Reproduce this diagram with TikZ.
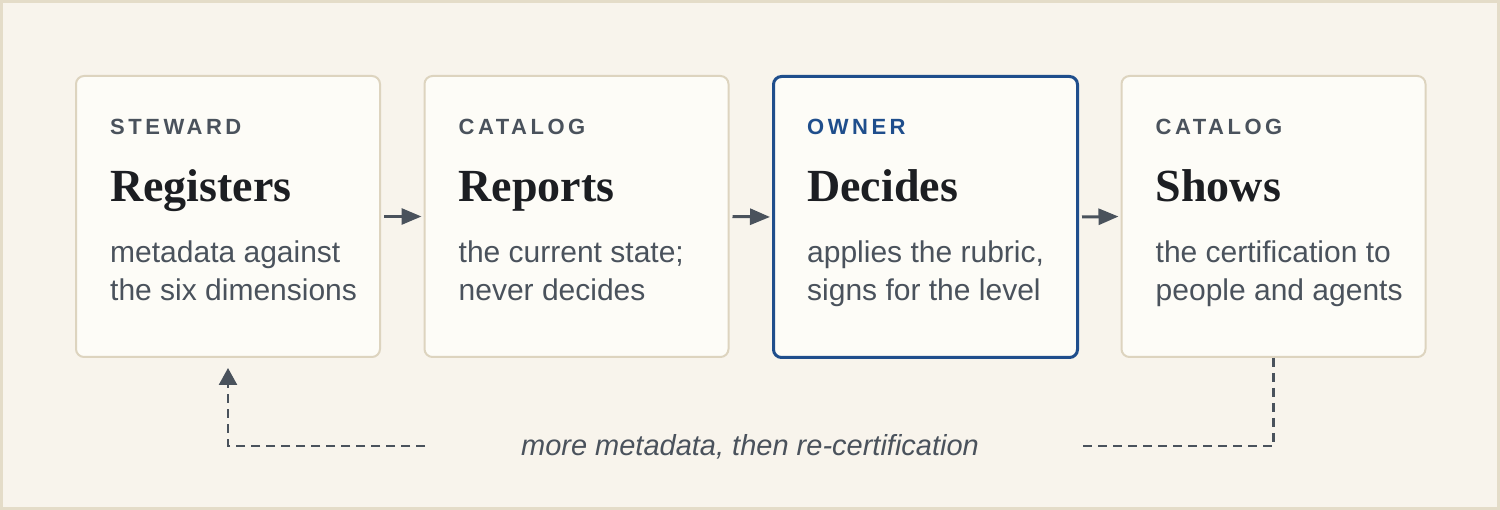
\documentclass[tikz,border=0pt]{standalone}
\usepackage{fontspec}
\usetikzlibrary{arrows.meta,calc}
\setmainfont{Liberation Serif}
\newfontfamily\labfont[LetterSpace=16]{Liberation Sans}
\newfontfamily\bodyfont{Liberation Sans}
\definecolor{bg}{HTML}{F8F4EC}
\definecolor{frame}{HTML}{E4DCC8}
\definecolor{boxfill}{HTML}{FDFCF7}
\definecolor{boxline}{HTML}{DDD4BF}
\definecolor{ownblue}{HTML}{1F4E8C}
\definecolor{darktext}{HTML}{1C1E22}
\definecolor{graytext}{HTML}{4A525C}
\begin{document}
\begin{tikzpicture}[x=1pt,y=-1pt,
  stagebox/.style={draw=boxline, line width=2pt, fill=boxfill, rounded corners=8pt,
    minimum width=304pt, minimum height=281pt, anchor=north west, inner sep=0pt},
  ownerbox/.style={stagebox, draw=ownblue, line width=3pt},
  roletext/.style={anchor=base west, inner sep=0pt, text=graytext, font=\labfont\bfseries\fontsize{22}{26}\selectfont},
  titletext/.style={anchor=base west, inner sep=0pt, text=darktext, font=\bfseries\fontsize{46}{52}\selectfont},
  bodytext/.style={anchor=base west, inner sep=0pt, text=graytext, font=\bodyfont\fontsize{30}{36}\selectfont},
  flow/.style={draw=graytext, line width=3pt, -{Triangle[length=20pt,width=16pt]}, shorten <=3pt, shorten >=2pt},
  loopline/.style={draw=graytext, line width=2.5pt, dash pattern=on 9pt off 6pt},
  captext/.style={anchor=base, inner sep=0pt, text=graytext, font=\bodyfont\itshape\fontsize{29}{34}\selectfont}
]
\fill[bg] (0,0) rectangle (1500,510);
\draw[frame, line width=3pt] (1.5,1.5) rectangle (1498.5,508.5);

\node[stagebox] (b1) at (75,75) {};
\node[stagebox] (b2) at (423.5,75) {};
\node[ownerbox] (b3) at (772,75) {};
\node[stagebox] (b4) at (1120.5,75) {};

% box 1
\node[roletext] (r1) at ($(b1.north west)+(35,60)$) {STEWARD};
\node[titletext] (t1) at ($(b1.north west)+(35,127)$) {Registers};
\node[bodytext] (d1a) at ($(b1.north west)+(35,188)$) {metadata against};
\node[bodytext] (d1b) at ($(b1.north west)+(35,226)$) {the six dimensions};
% box 2
\node[roletext] (r2) at ($(b2.north west)+(35,60)$) {CATALOG};
\node[titletext] (t2) at ($(b2.north west)+(35,127)$) {Reports};
\node[bodytext] (d2a) at ($(b2.north west)+(35,188)$) {the current state;};
\node[bodytext] (d2b) at ($(b2.north west)+(35,226)$) {never decides};
% box 3
\node[roletext, text=ownblue] (r3) at ($(b3.north west)+(35,60)$) {OWNER};
\node[titletext] (t3) at ($(b3.north west)+(35,127)$) {Decides};
\node[bodytext] (d3a) at ($(b3.north west)+(35,188)$) {applies the rubric,};
\node[bodytext] (d3b) at ($(b3.north west)+(35,226)$) {signs for the level};
% box 4
\node[roletext] (r4) at ($(b4.north west)+(35,60)$) {CATALOG};
\node[titletext] (t4) at ($(b4.north west)+(35,127)$) {Shows};
\node[bodytext] (d4a) at ($(b4.north west)+(35,188)$) {the certification to};
\node[bodytext] (d4b) at ($(b4.north west)+(35,226)$) {people and agents};

\draw[flow] (b1.east) -- (b2.west);
\draw[flow] (b2.east) -- (b3.west);
\draw[flow] (b3.east) -- (b4.west);

\node[captext] (cap) at (750,456) {more metadata, then re-certification};
\coordinate (gr) at (1080,446);
\coordinate (gl) at (425,446);
\draw[loopline] (b4.south) |- (gr);
\draw[loopline, -{Triangle[length=17pt,width=18pt]}, shorten >=10pt] (gl) -| (b1.south);
\end{tikzpicture}
\end{document}
